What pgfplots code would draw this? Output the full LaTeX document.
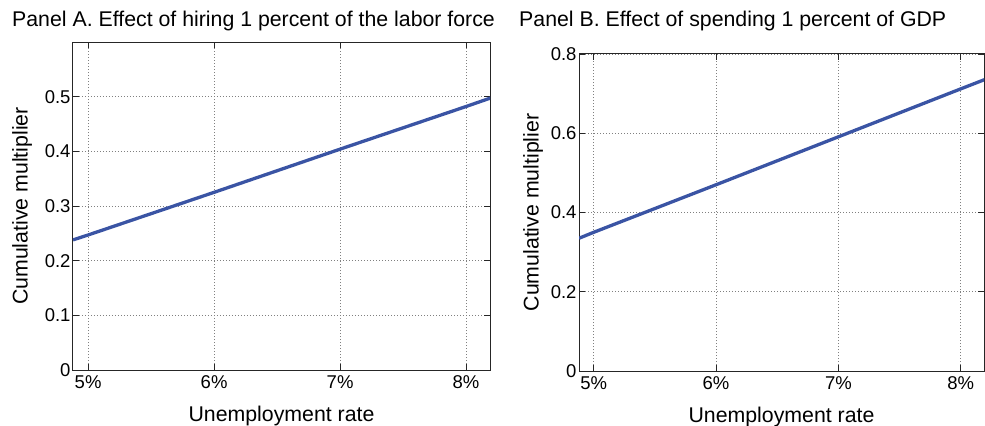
\documentclass[border=0pt]{standalone}
\usepackage{fontspec}
\setmainfont{Liberation Sans}
\usepackage{pgfplots}
\pgfplotsset{compat=1.18}

\definecolor{lineblue}{RGB}{58,84,164}

\pgfplotsset{
  panel/.style={
    scale only axis,
    xmin=4.88, xmax=8.19,
    ymin=0,
    xtick={5,6,7,8},
    xticklabels={5\%,6\%,7\%,8\%},
    tick pos=both,
    tick align=inside,
    major tick length=6bp,
    axis line style={line width=1bp, black!85},
    every tick/.style={black!85, line width=0.8bp},
    grid=major,
    major grid style={dash pattern=on 0.8bp off 2.2bp, black!50, line width=0.7bp},
    tick label style={font=\fontsize{18.5bp}{20bp}\selectfont},
    label style={font=\fontsize{21.3bp}{25bp}\selectfont},
    /pgf/number format/assume math mode=true,
    xticklabel style={yshift=-2bp},
    yticklabel style={xshift=1bp},
  },
}

\begin{document}
\begin{tikzpicture}

% Panel A
\begin{axis}[panel,
  at={(0,0)}, anchor=south west,
  width=417bp, height=328bp,
  ymax=0.6,
  ytick={0,0.1,0.2,0.3,0.4,0.5},
  yticklabels={0,0.1,0.2,0.3,0.4,0.5},
  xlabel={Unemployment rate},
  ylabel={Cumulative multiplier},
  xlabel style={at={(axis description cs:0.5,-0.1585)}, anchor=base},
  ylabel style={at={(axis description cs:-0.1223,0.5)}, anchor=center, rotate=0},
]
\addplot[lineblue, line width=3.3bp, mark=none] coordinates {
(4.88,0.238) (5,0.247) (6,0.325) (7,0.404) (8,0.482) (8.2,0.498)
};
\end{axis}

% Panel B
\begin{axis}[panel,
  at={(506bp,-1bp)}, anchor=south west,
  width=405bp, height=317bp,
  ymax=0.8,
  ytick={0,0.2,0.4,0.6,0.8},
  yticklabels={0,0.2,0.4,0.6,0.8},
  xlabel={Unemployment rate},
  ylabel={Cumulative multiplier},
  xlabel style={at={(axis description cs:0.5,-0.161)}, anchor=base},
  ylabel style={at={(axis description cs:-0.1136,0.5)}, anchor=center, rotate=0},
]
\addplot[lineblue, line width=3.3bp, mark=none] coordinates {
(4.88,0.335) (5,0.350) (6,0.470) (7,0.591) (8,0.712) (8.2,0.736)
};
\end{axis}

\node[anchor=base west, font=\fontsize{21.3bp}{25bp}\selectfont, inner sep=0pt]
  at (-61bp,343bp) {Panel A. Effect of hiring 1 percent of the labor force};
\node[anchor=base west, font=\fontsize{21.3bp}{25bp}\selectfont, inner sep=0pt]
  at (446bp,343bp) {Panel B. Effect of spending 1 percent of GDP};

\pgfresetboundingbox
\path[use as bounding box] (-73bp,-56bp) rectangle (912bp,370bp);
\end{tikzpicture}
\end{document}
